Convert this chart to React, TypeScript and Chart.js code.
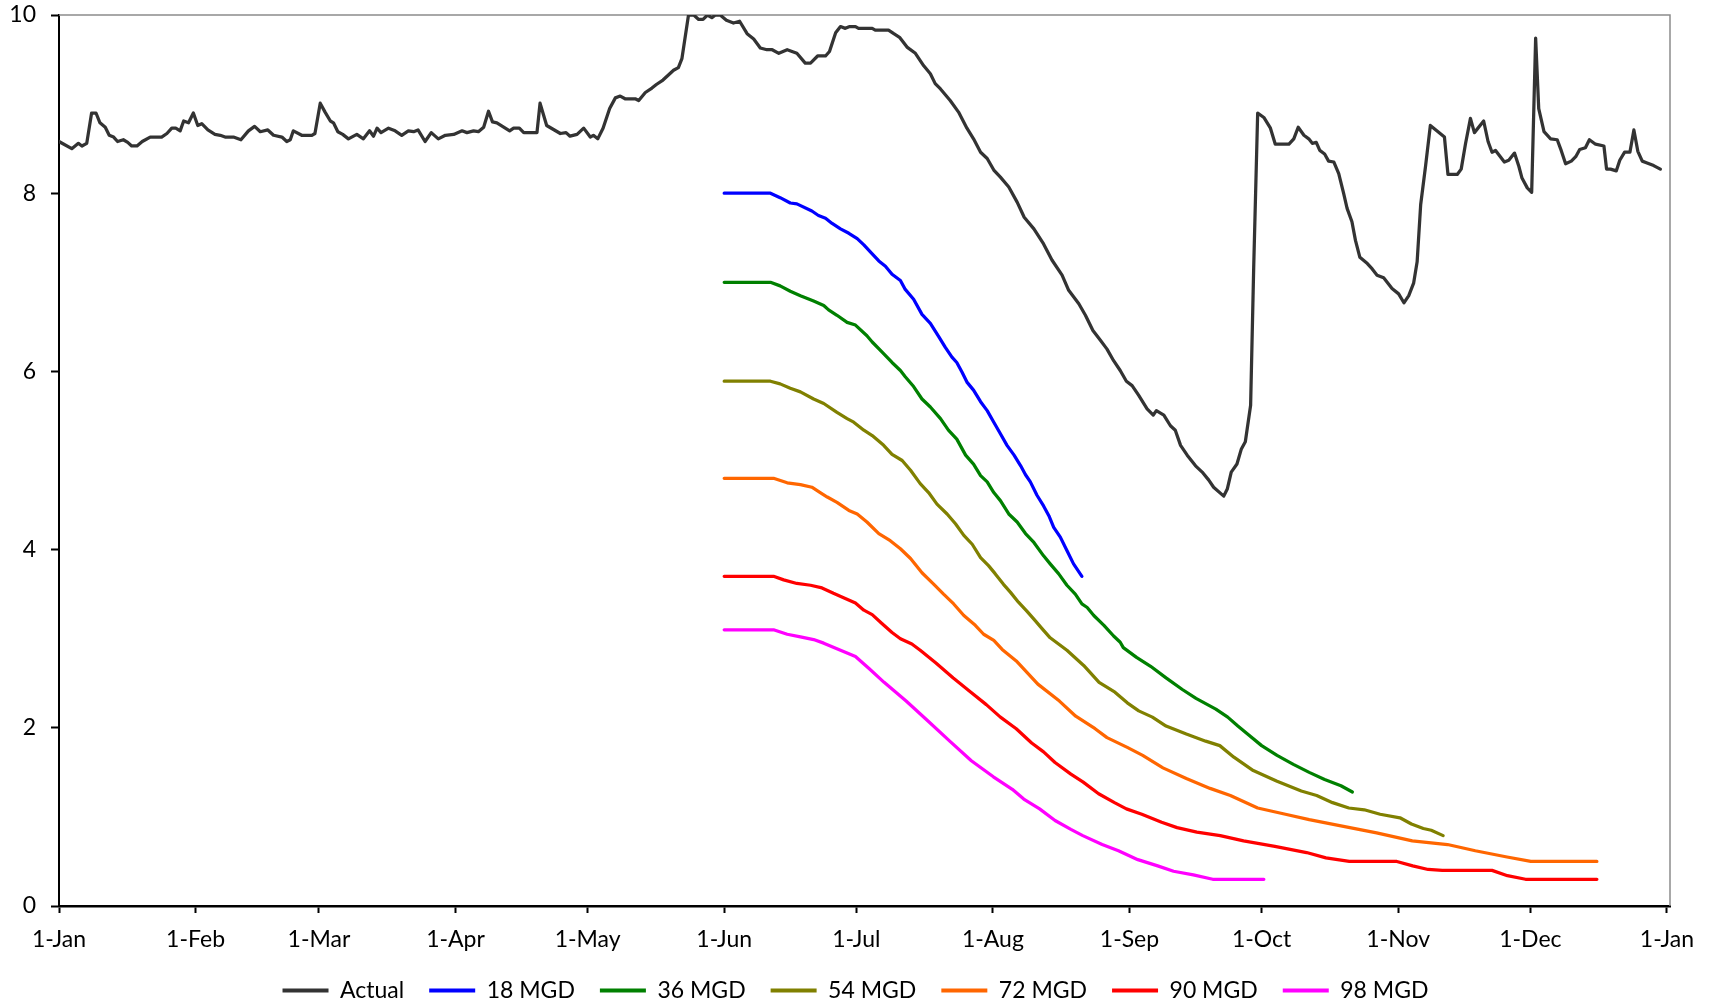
import React, { useEffect, useRef } from "react";
import { Chart, registerables } from "chart.js";

Chart.register(...registerables);

// ---- axis ticks ----
const monthTickDays = [0, 31, 59, 90, 120, 151, 181, 212, 243, 273, 304, 334, 365];
const monthTickLabels = ["1-Jan", "1-Feb", "1-Mar", "1-Apr", "1-May", "1-Jun", "1-Jul", "1-Aug", "1-Sep", "1-Oct", "1-Nov", "1-Dec", "1-Jan"];
const yTickValues = [0, 2, 4, 6, 8, 10];

// ---- series names / colours ----
const seriesNames = ["Actual", "18 MGD", "36 MGD", "54 MGD", "72 MGD", "90 MGD", "98 MGD"];
const seriesColors = ["#333333", "#0000FF", "#008000", "#808000", "#FF6600", "#FF0000", "#FF00FF"];

// ---- Actual (day of year, value) ----
const actualDays = [
  0, 2.9, 4.4, 5.2, 6.3, 7.4, 8.4, 9.3, 10.5, 11.4, 12.4, 13.3, 14.6, 15.6, 16.5, 17.7, 18.9, 20.7, 23.3, 24.5,
  25.6, 26.5, 27.5, 28.3, 29.4, 30.5, 31.5, 32.4, 33.8, 35.4, 36.6, 37.7, 39.6, 41.3, 43.0, 44.4, 45.7, 47.4, 48.7, 50.6,
  51.7, 52.5, 53.2, 55.1, 57.4, 58.1, 59.3, 60.4, 61.6, 62.3, 63.3, 64.4, 65.7, 67.6, 69.1, 70.5, 71.4, 72.2, 73.1, 74.8,
  76.3, 77.8, 79.3, 80.5, 81.5, 83.1, 84.5, 86.1, 87.7, 89.6, 91.5, 92.6, 94.1, 95.2, 96.4, 97.5, 98.4, 99.4, 102.3, 103.2,
  104.5, 105.5, 108.5, 109.2, 110.7, 113.8, 115.1, 116.0, 117.6, 119.1, 120.6, 121.3, 122.3, 123.5, 125.0, 126.3, 127.4, 128.5, 130.8, 131.6,
  133.1, 134.6, 135.6, 137.1, 138.4, 139.5, 140.6, 141.4, 142.9, 144.1, 145.2, 146.2, 147.2, 148.2, 149.0, 150.1, 151.5, 153.1, 154.5, 156.2,
  157.7, 159.2, 160.7, 161.9, 163.4, 165.3, 167.5, 169.4, 170.6, 172.2, 174.0, 174.9, 176.3, 177.4, 178.5, 179.5, 180.8, 181.5, 184.6, 185.3,
  188.3, 189.5, 190.8, 192.5, 194.4, 196.3, 197.8, 198.9, 200.1, 202.3, 204.2, 206.1, 207.6, 209.2, 210.7, 212.2, 213.7, 215.6, 217.5, 219.1,
  221.3, 223.5, 225.4, 227.7, 229.2, 231.5, 233.0, 234.7, 236.4, 237.9, 239.4, 240.9, 242.3, 243.6, 245.1, 247.0, 248.4, 249.1, 250.8, 252.3,
  253.4, 254.6, 256.1, 258.0, 259.5, 261.0, 262.1, 264.4, 265.2, 266.1, 267.4, 268.4, 269.3, 270.5, 271.2, 272.1, 273.5, 275.0, 276.1, 279.2,
  280.3, 281.3, 282.6, 283.7, 284.5, 285.4, 286.2, 287.3, 288.2, 289.4, 290.5, 291.6, 292.4, 293.5, 294.3, 295.3, 297.0, 298.1, 299.2, 300.7,
  302.6, 304.1, 305.3, 306.4, 307.5, 308.3, 309.1, 310.2, 311.3, 314.5, 315.3, 317.4, 318.3, 319.3, 320.4, 321.3, 323.4, 324.4, 325.3, 326.1,
  328.1, 329.1, 330.4, 331.4, 332.1, 333.3, 334.3, 335.2, 335.9, 337.1, 338.6, 340.1, 341.0, 342.0, 343.3, 344.3, 345.2, 346.5, 347.4, 348.8,
  350.7, 351.3, 352.2, 353.5, 354.3, 355.4, 356.6, 357.5, 358.4, 359.4, 360.5, 362.0, 363.5,
];
const actualValues = [
  8.58, 8.50, 8.56, 8.53, 8.56, 8.90, 8.90, 8.79, 8.74, 8.65, 8.63, 8.58, 8.60, 8.57, 8.53, 8.53, 8.58, 8.63, 8.63, 8.67,
  8.73, 8.73, 8.70, 8.81, 8.79, 8.90, 8.76, 8.78, 8.71, 8.66, 8.65, 8.63, 8.63, 8.60, 8.70, 8.75, 8.69, 8.71, 8.65, 8.63,
  8.58, 8.60, 8.70, 8.65, 8.65, 8.67, 9.01, 8.91, 8.81, 8.79, 8.69, 8.66, 8.61, 8.66, 8.61, 8.70, 8.64, 8.73, 8.68, 8.73,
  8.70, 8.65, 8.70, 8.69, 8.71, 8.58, 8.68, 8.61, 8.65, 8.66, 8.70, 8.68, 8.70, 8.69, 8.74, 8.92, 8.80, 8.79, 8.70, 8.73,
  8.73, 8.68, 8.68, 9.01, 8.76, 8.67, 8.68, 8.64, 8.66, 8.73, 8.63, 8.65, 8.61, 8.73, 8.95, 9.07, 9.09, 9.06, 9.06, 9.04,
  9.13, 9.18, 9.22, 9.27, 9.33, 9.38, 9.41, 9.51, 10.0, 10.0, 9.95, 9.95, 10.0, 9.97, 10.0, 10.0, 9.94, 9.91, 9.93, 9.79,
  9.73, 9.63, 9.61, 9.61, 9.57, 9.61, 9.57, 9.46, 9.46, 9.54, 9.54, 9.59, 9.80, 9.87, 9.85, 9.87, 9.87, 9.85, 9.85, 9.83,
  9.83, 9.79, 9.75, 9.64, 9.57, 9.43, 9.34, 9.23, 9.17, 9.04, 8.91, 8.73, 8.61, 8.46, 8.39, 8.26, 8.18, 8.07, 7.90, 7.73,
  7.60, 7.43, 7.25, 7.08, 6.91, 6.76, 6.63, 6.46, 6.35, 6.25, 6.12, 6.01, 5.89, 5.84, 5.73, 5.58, 5.51, 5.56, 5.51, 5.39,
  5.34, 5.17, 5.06, 4.94, 4.87, 4.78, 4.70, 4.60, 4.68, 4.87, 4.96, 5.13, 5.21, 5.62, 7.17, 8.90, 8.85, 8.73, 8.55, 8.55,
  8.61, 8.74, 8.65, 8.61, 8.56, 8.57, 8.48, 8.44, 8.36, 8.35, 8.22, 8.00, 7.83, 7.68, 7.47, 7.28, 7.21, 7.15, 7.08, 7.05,
  6.93, 6.87, 6.77, 6.85, 6.99, 7.23, 7.87, 8.30, 8.76, 8.63, 8.21, 8.21, 8.27, 8.56, 8.84, 8.68, 8.81, 8.58, 8.46, 8.48,
  8.35, 8.37, 8.45, 8.30, 8.17, 8.06, 8.01, 9.74, 8.95, 8.69, 8.61, 8.60, 8.48, 8.33, 8.36, 8.41, 8.49, 8.51, 8.60, 8.55,
  8.53, 8.27, 8.27, 8.25, 8.37, 8.46, 8.46, 8.71, 8.47, 8.36, 8.34, 8.31, 8.27,
];

// ---- 18 MGD ----
const mgd18Days = [151, 161.5, 163.7, 166.0, 167.5, 170.9, 172.4, 174.0, 175.5, 177.4, 179.3, 181.2, 182.7, 184.6, 186.1, 187.6, 189.1, 191.0, 192.1, 194.0,
  195.9, 197.8, 199.7, 201.2, 202.7, 203.8, 205.0, 206.1, 207.6, 209.2, 210.7, 212.2, 213.7, 215.2, 216.8, 218.3, 219.4, 220.5, 222.0, 223.5,
  224.7, 225.8, 227.3, 228.8, 230.3, 232.2];
const mgd18Values = [8.00, 8.00, 7.95, 7.89, 7.88, 7.80, 7.75, 7.72, 7.66, 7.60, 7.55, 7.49, 7.42, 7.32, 7.24, 7.18, 7.09, 7.02, 6.92, 6.81,
  6.64, 6.54, 6.39, 6.27, 6.16, 6.10, 5.99, 5.88, 5.79, 5.66, 5.56, 5.43, 5.30, 5.17, 5.06, 4.94, 4.84, 4.76, 4.61, 4.49,
  4.38, 4.25, 4.14, 3.99, 3.84, 3.70];

// ---- 36 MGD ----
const mgd36Days = [151, 161.5, 163.7, 166.0, 168.3, 171.3, 173.6, 174.7, 176.6, 178.9, 180.8, 183.4, 184.6, 186.8, 189.1, 191.0, 192.1, 194.0, 195.9, 197.8,
  200.1, 201.9, 203.8, 205.8, 207.6, 209.2, 210.7, 212.2, 213.7, 215.6, 217.5, 219.4, 221.3, 223.5, 225.0, 226.9, 228.8, 230.7, 232.2, 233.4,
  234.9, 237.2, 239.4, 240.9, 241.6, 244.6, 247.8, 251.3, 255.0, 258.1, 262.6, 265.3, 267.6, 269.8, 273.0, 276.5, 280.2, 283.8, 287.3, 291.0, 293.6];
const mgd36Values = [7.00, 7.00, 6.96, 6.90, 6.85, 6.79, 6.74, 6.69, 6.63, 6.55, 6.52, 6.40, 6.33, 6.22, 6.10, 6.01, 5.94, 5.83, 5.69, 5.60,
  5.47, 5.34, 5.24, 5.06, 4.96, 4.83, 4.76, 4.64, 4.55, 4.40, 4.31, 4.18, 4.08, 3.93, 3.84, 3.73, 3.60, 3.50, 3.39, 3.35,
  3.26, 3.15, 3.03, 2.96, 2.90, 2.79, 2.69, 2.56, 2.43, 2.33, 2.21, 2.12, 2.02, 1.93, 1.80, 1.69, 1.59, 1.50, 1.42, 1.35, 1.28];

// ---- 54 MGD ----
const mgd54Days = [151, 161.5, 163.7, 166.0, 168.3, 171.3, 173.6, 176.6, 178.9, 180.4, 182.7, 184.6, 187.2, 189.1, 191.4, 193.3, 195.5, 197.4, 199.3, 201.6,
  203.5, 205.4, 207.3, 209.2, 211.0, 212.5, 214.4, 216.0, 217.8, 219.7, 221.3, 223.2, 225.0, 226.9, 228.8, 232.6, 236.1, 239.7, 242.5, 245.1,
  248.2, 251.3, 255.9, 260.3, 263.5, 266.7, 271.1, 276.5, 282.0, 285.5, 289.1, 292.8, 296.3, 299.9, 304.4, 307.0, 309.7, 311.5, 314.2];
const mgd54Values = [5.89, 5.89, 5.86, 5.81, 5.77, 5.69, 5.64, 5.54, 5.47, 5.43, 5.34, 5.28, 5.17, 5.07, 5.00, 4.89, 4.74, 4.64, 4.51, 4.40,
  4.29, 4.16, 4.06, 3.91, 3.82, 3.73, 3.61, 3.52, 3.41, 3.31, 3.22, 3.11, 3.01, 2.94, 2.87, 2.70, 2.51, 2.40, 2.28, 2.19,
  2.12, 2.02, 1.93, 1.85, 1.80, 1.67, 1.52, 1.40, 1.29, 1.24, 1.16, 1.10, 1.08, 1.03, 0.99, 0.92, 0.87, 0.85, 0.79];

// ---- 72 MGD ----
const mgd72Days = [151, 162.2, 165.3, 168.3, 170.9, 172.8, 174.4, 176.6, 179.3, 181.2, 183.4, 186.1, 188.7, 191.0, 193.3, 195.9, 198.6, 200.8, 203.1, 205.4,
  208.0, 209.9, 212.2, 214.1, 217.3, 222.2, 227.1, 230.8, 235.2, 237.9, 242.5, 246.0, 250.6, 255.9, 261.3, 265.9, 272.1, 278.4, 283.8, 291.0,
  299.1, 307.2, 315.2, 321.5, 328.7, 334.1, 349.1];
const mgd72Values = [4.80, 4.80, 4.75, 4.73, 4.70, 4.64, 4.59, 4.53, 4.44, 4.40, 4.31, 4.18, 4.10, 4.01, 3.90, 3.74, 3.61, 3.50, 3.39, 3.26,
  3.15, 3.05, 2.98, 2.88, 2.75, 2.49, 2.30, 2.13, 1.99, 1.89, 1.78, 1.69, 1.55, 1.43, 1.32, 1.24, 1.10, 1.03, 0.97, 0.90,
  0.82, 0.73, 0.69, 0.62, 0.55, 0.50, 0.50];

// ---- 90 MGD ----
const mgd90Days = [151, 162.2, 164.5, 167.5, 170.6, 173.2, 175.8, 178.1, 180.8, 182.7, 184.6, 186.8, 189.1, 191.0, 193.6, 195.5, 199.0, 203.0, 207.0, 210.5,
  213.7, 217.3, 220.8, 223.5, 226.1, 229.7, 232.5, 236.0, 239.6, 242.3, 245.8, 250.3, 253.8, 258.3, 263.6, 268.9, 276.0, 283.2, 287.6, 292.9,
  303.7, 307.3, 310.8, 314.0, 325.3, 328.8, 332.9, 349.1];
const mgd90Values = [3.70, 3.70, 3.66, 3.62, 3.60, 3.57, 3.51, 3.46, 3.40, 3.32, 3.27, 3.17, 3.07, 3.00, 2.94, 2.87, 2.73, 2.56, 2.40, 2.26,
  2.12, 1.99, 1.83, 1.73, 1.61, 1.48, 1.39, 1.26, 1.16, 1.09, 1.03, 0.94, 0.88, 0.83, 0.79, 0.73, 0.67, 0.60, 0.54, 0.50,
  0.50, 0.45, 0.41, 0.40, 0.40, 0.34, 0.30, 0.30];

// ---- 98 MGD ----
const mgd98Days = [151, 162.2, 165.3, 168.3, 171.3, 173.6, 177.4, 180.8, 184.0, 187.3, 192.3, 197.2, 202.2, 207.1, 212.1, 216.4, 219.0, 222.6, 226.1, 229.7,
  232.4, 236.8, 240.5, 244.9, 249.4, 253.0, 257.5, 261.9, 273.5];
const mgd98Values = [3.10, 3.10, 3.05, 3.02, 2.99, 2.95, 2.87, 2.80, 2.66, 2.51, 2.30, 2.08, 1.85, 1.63, 1.45, 1.31, 1.20, 1.09, 0.96, 0.86,
  0.79, 0.69, 0.62, 0.52, 0.45, 0.39, 0.35, 0.30, 0.30];

const seriesDays = [actualDays, mgd18Days, mgd36Days, mgd54Days, mgd72Days, mgd90Days, mgd98Days];
const seriesValues = [actualValues, mgd18Values, mgd36Values, mgd54Values, mgd72Values, mgd90Values, mgd98Values];

const FONT_FAMILY = "Lato, 'Open Sans', sans-serif";
const FONT_SIZE = 23;

const framePlugin = {
  id: "frameBorder",
  afterLayout(chart: any) {
    // centre the legend on the whole canvas rather than on the padded box
    const lg = chart.legend;
    if (lg) {
      const shift = (chart.width - (lg.left + lg.right)) / 2;
      lg.left += shift;
      lg.right += shift;
    }
  },
  beforeDatasetsDraw(chart: any) {
    const { ctx, chartArea } = chart;
    const { left, right, top, bottom } = chartArea;
    ctx.save();
    ctx.strokeStyle = "#8c8c8c";
    ctx.lineWidth = 1.5;
    ctx.beginPath();
    ctx.moveTo(left, top);
    ctx.lineTo(right, top);
    ctx.lineTo(right, bottom);
    ctx.stroke();
    ctx.restore();
  },
};

export default function App() {
  const canvasRef = useRef<HTMLCanvasElement | null>(null);

  useEffect(() => {
    if (!canvasRef.current) return;
    const datasets = seriesNames.map((name, i) => ({
      label: name,
      data: seriesDays[i].map((d, j) => ({ x: d, y: seriesValues[i][j] })),
      borderColor: seriesColors[i],
      backgroundColor: seriesColors[i],
      borderWidth: 3.25,
      pointRadius: 0,
      pointHoverRadius: 0,
      tension: 0,
      fill: false,
      borderJoinStyle: "round" as const,
      borderCapStyle: "round" as const,
    }));

    const chart = new Chart(canvasRef.current, {
      type: "line",
      data: { datasets },
      plugins: [framePlugin],
      options: {
        animation: false,
        responsive: false,
        devicePixelRatio: 1,
        events: [],
        layout: { padding: { left: 0, right: 41, top: 15, bottom: 0 } },
        plugins: {
          tooltip: { enabled: false },
          legend: {
            position: "bottom",
            labels: {
              boxWidth: 46,
              boxHeight: 4,
              padding: 25,
              color: "#000",
              font: { family: FONT_FAMILY, size: FONT_SIZE },
              generateLabels: (c: any) =>
                (Chart.defaults.plugins.legend.labels.generateLabels as any)(c).map((l: any) => ({
                  ...l,
                  fillStyle: l.strokeStyle,
                  lineWidth: 0,
                })),
            },
          },
        },
        scales: {
          x: {
            type: "linear",
            min: 0,
            max: 365.7,
            afterBuildTicks: (scale: any) => {
              scale.ticks = monthTickDays.map((v) => ({ value: v }));
            },
            afterFit: (scale: any) => {
              scale.height = 48;
            },
            grid: {
              display: true,
              drawOnChartArea: false,
              drawTicks: true,
              tickLength: 7,
              tickColor: "#000",
              tickWidth: 2,
            },
            border: { display: true, color: "#000", width: 2.5 },
            ticks: {
              autoSkip: false,
              maxRotation: 0,
              padding: 13,
              color: "#000",
              font: { family: FONT_FAMILY, size: FONT_SIZE },
              callback: (value: any) => {
                const idx = monthTickDays.indexOf(Number(value));
                return idx >= 0 ? monthTickLabels[idx] : "";
              },
            },
          },
          y: {
            type: "linear",
            min: 0,
            max: 10,
            afterBuildTicks: (scale: any) => {
              scale.ticks = yTickValues.map((v) => ({ value: v }));
            },
            afterFit: (scale: any) => {
              scale.width = 59;
              scale.paddingTop = 0;
              scale.paddingBottom = 0;
            },
            grid: {
              display: true,
              drawOnChartArea: false,
              drawTicks: true,
              tickLength: 8,
              tickColor: "#000",
              tickWidth: 2,
            },
            border: { display: true, color: "#000", width: 2 },
            ticks: {
              padding: 15,
              color: "#000",
              font: { family: FONT_FAMILY, size: FONT_SIZE },
              callback: (value: any) => String(value),
            },
          },
        },
      },
    } as any);

    return () => chart.destroy();
  }, []);

  return (
    <div
      style={{
        position: "fixed",
        left: 0,
        top: 0,
        width: 1711,
        height: 1006,
        overflow: "hidden",
        background: "#ffffff",
      }}
    >
      <canvas ref={canvasRef} width={1711} height={1012} style={{ display: "block", width: 1711, height: 1012 }} />
    </div>
  );
}
